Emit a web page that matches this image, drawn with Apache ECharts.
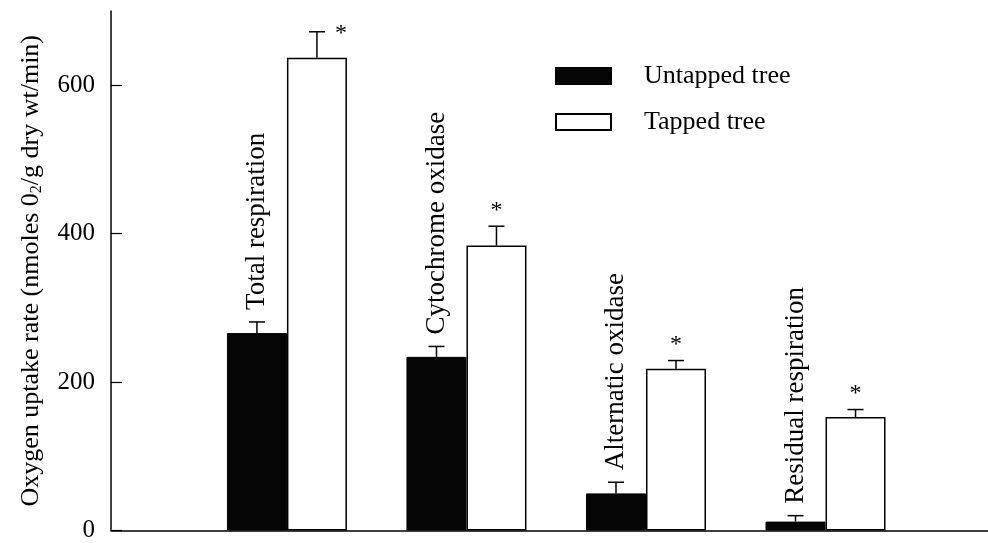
<!DOCTYPE html>
<html>
<head>
<meta charset="utf-8">
<script src="https://cdn.jsdelivr.net/npm/echarts@6/dist/echarts.min.js"></script>
<style>
  html, body { margin: 0; padding: 0; background: #fff; }
  #chart { width: 988px; height: 543px; }
</style>
</head>
<body>
<div id="chart"></div>
<script>
// values
const categories = ['Total respiration', 'Cytochrome oxidase', 'Alternatic oxidase', 'Residual respiration'];
const untapped = [266, 234, 50, 12];
const untappedErr = [15, 14, 15, 8];
const tapped = [637, 384, 218, 153];
const tappedErr = [35, 26, 11, 10];
const yTicks = [0, 200, 400, 600];

const FONT = '"Liberation Serif", "DejaVu Serif", serif';
const BAR_W = 60;

const chart = echarts.init(document.getElementById('chart'));

// error bar (one sided, upwards) + rotated category name / asterisk
function errorBars(side, withName) {
    return function (params, api) {
        const i = params.dataIndex;
        const x = api.value(0), v = api.value(1), e = api.value(2);
        const base = api.coord([x, v]);
        const top = api.coord([x, v + e]);
        const cx = base[0] + side * BAR_W / 2;
        const children = [{
            type: 'line',
            shape: { x1: cx, y1: base[1], x2: cx, y2: top[1] },
            style: { stroke: '#000', lineWidth: 1.5 }
        }, {
            type: 'line',
            shape: { x1: cx - 8, y1: top[1], x2: cx + 8, y2: top[1] },
            style: { stroke: '#000', lineWidth: 1.5 }
        }];
        if (withName) {
            children.push({
                type: 'text',
                x: cx, y: top[1] - 12,
                rotation: Math.PI / 2,
                style: {
                    text: categories[i], font: '27px ' + FONT, fill: '#000',
                    align: 'left', verticalAlign: 'middle'
                }
            });
        } else {
            // no room above the tallest one: put the star beside the cap
            const nearTop = top[1] < 50;
            children.push({
                type: 'text',
                x: nearTop ? cx + 24 : cx,
                y: nearTop ? top[1] + 14 : top[1] - 4,
                style: {
                    text: '*', font: '24px ' + FONT, fill: '#000',
                    align: 'center', verticalAlign: 'bottom'
                }
            });
        }
        return { type: 'group', children: children };
    };
}

const option = {
    backgroundColor: '#fff',
    animation: false,
    grid: { left: 111, right: 0, top: 11, bottom: 8 },
    legend: {
        orient: 'vertical',
        left: 550, top: 58,
        icon: 'rect',
        itemWidth: 55, itemHeight: 16, itemGap: 20,
        textStyle: { fontFamily: FONT, fontSize: 26, color: '#000', padding: [0, 0, 0, 28] },
        data: ['Untapped tree', 'Tapped tree']
    },
    xAxis: {
        type: 'value',
        min: 0.02, max: 4.905,
        axisLine: { lineStyle: { color: '#000', width: 1.5 } },
        axisTick: { show: false },
        axisLabel: { show: false },
        splitLine: { show: false }
    },
    yAxis: {
        type: 'value',
        min: 0, max: 700,
        name: 'Oxygen uptake rate (nmoles 0{sub|2}/g dry wt/min)',
        nameLocation: 'middle',
        nameRotate: 90,
        nameGap: 66,
        nameTextStyle: {
            fontFamily: FONT, fontSize: 26, color: '#000',
            rich: { sub: { fontFamily: FONT, fontSize: 16, color: '#000', padding: [12, 0, 0, 0] } }
        },
        axisLine: { show: true, lineStyle: { color: '#000', width: 1.5 } },
        axisTick: { show: true, inside: true, length: 11, customValues: yTicks, lineStyle: { color: '#000', width: 1.2 } },
        axisLabel: { customValues: yTicks, fontFamily: FONT, fontSize: 25, color: '#000', margin: 16 },
        splitLine: { show: false }
    },
    series: [{
        name: 'Untapped tree',
        type: 'bar',
        barWidth: BAR_W,
        barGap: '0%',
        itemStyle: { color: '#050505', borderColor: '#000', borderWidth: 1 },
        data: untapped.map((v, i) => [i + 1, v])
    }, {
        name: 'Tapped tree',
        type: 'bar',
        barWidth: BAR_W,
        barGap: '0%',
        itemStyle: { color: '#fff', borderColor: '#000', borderWidth: 1.5 },
        data: tapped.map((v, i) => [i + 1, v])
    }, {
        type: 'custom',
        renderItem: errorBars(-1, true),
        data: untapped.map((v, i) => [i + 1, v, untappedErr[i]]),
        z: 5
    }, {
        type: 'custom',
        renderItem: errorBars(1, false),
        data: tapped.map((v, i) => [i + 1, v, tappedErr[i]]),
        z: 5
    }]
};

chart.setOption(option);
</script>
</body>
</html>
